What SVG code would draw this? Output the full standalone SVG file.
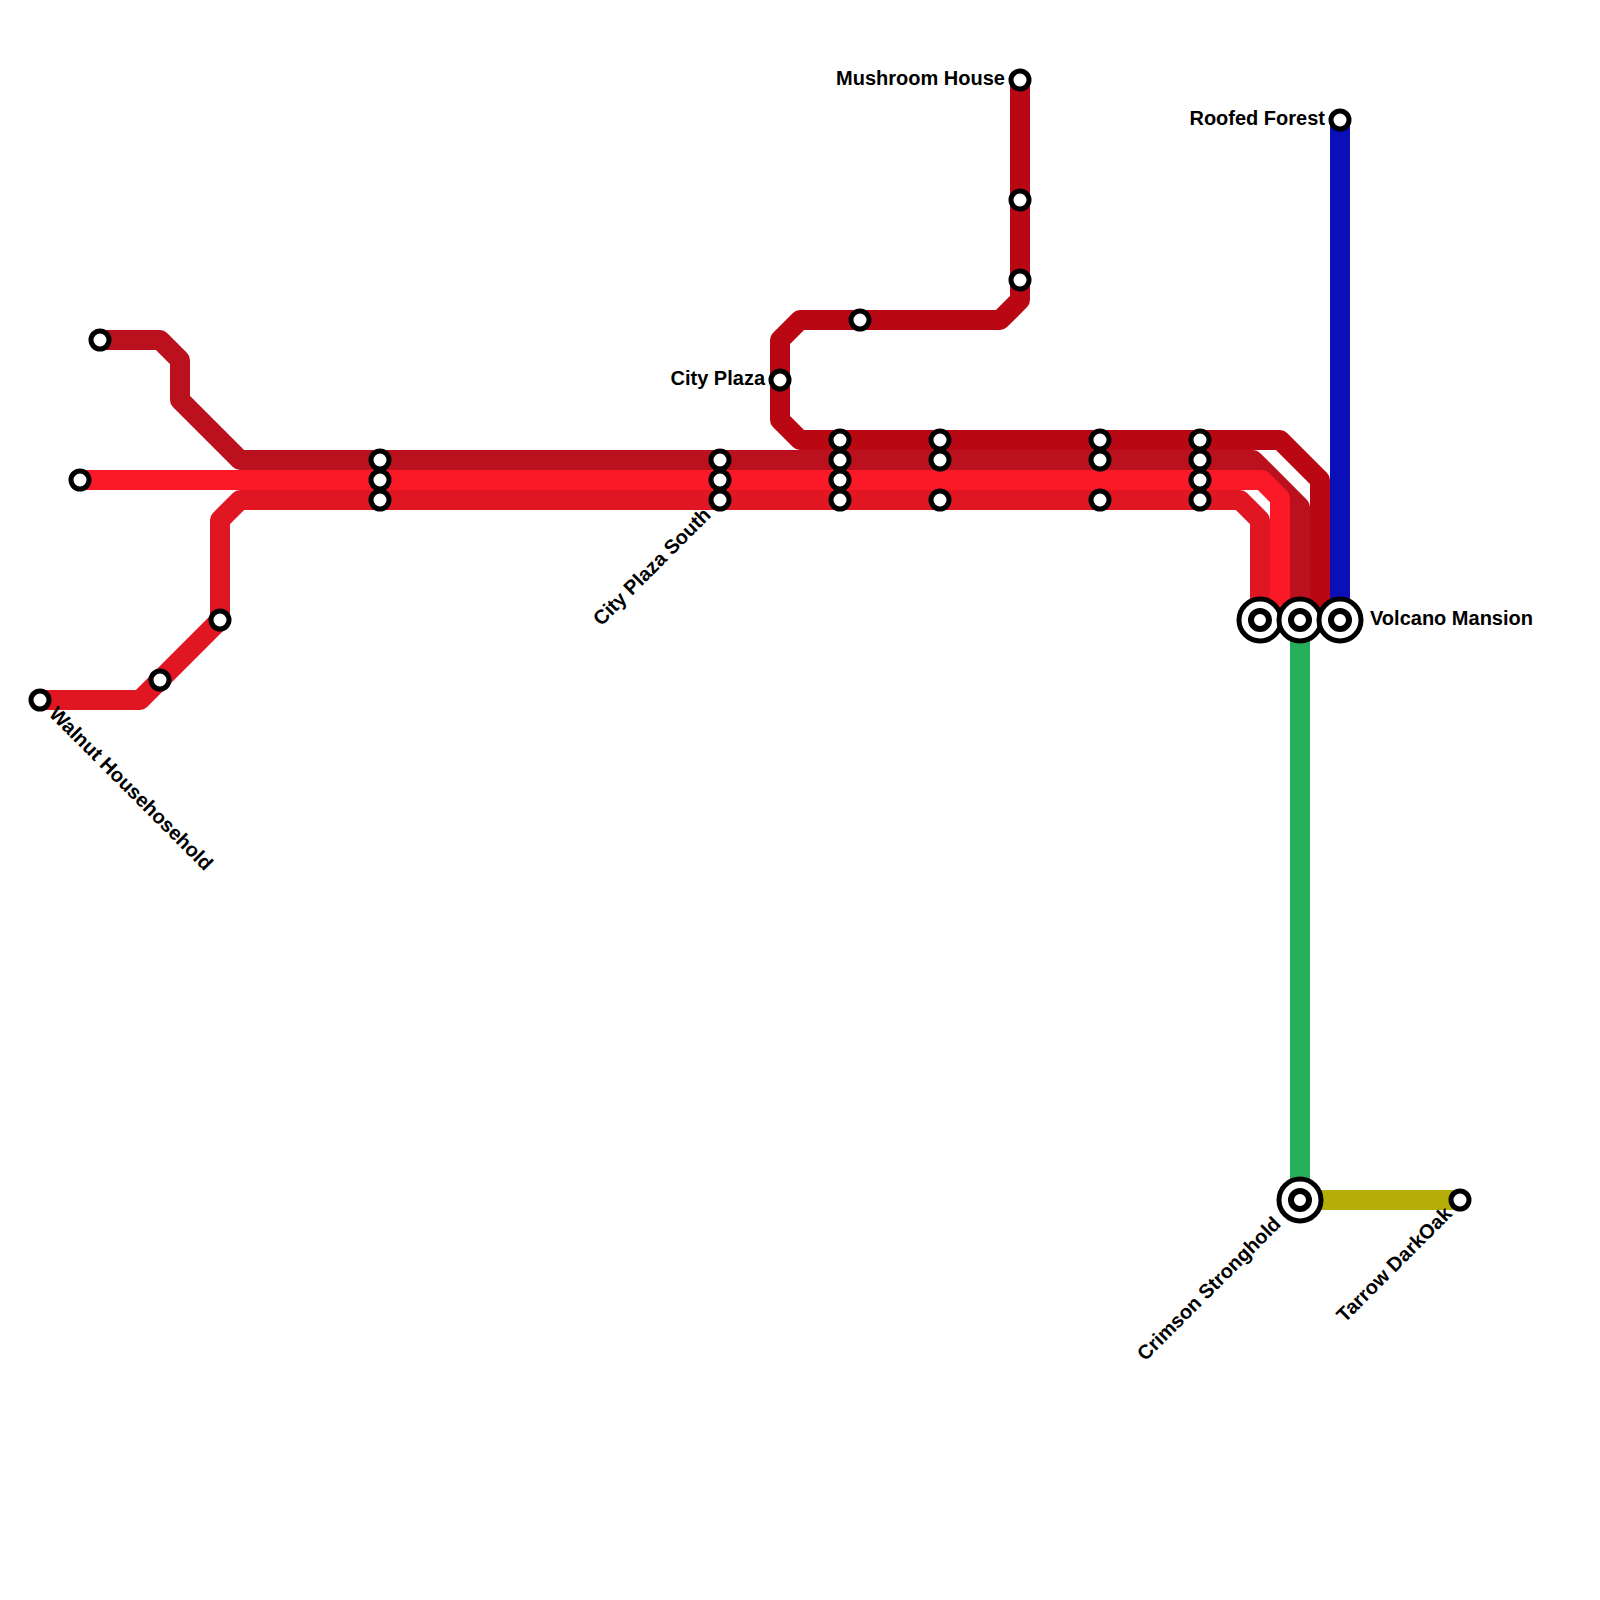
<svg xmlns="http://www.w3.org/2000/svg" width="1600" height="1600" viewBox="0 0 1600 1600">
<style>
.l{fill:none;stroke-width:20;stroke-linejoin:round}
.s{fill:#fff;stroke:#000;stroke-width:5}
.c{fill:#fff;stroke:#000;stroke-width:6}
.o{fill:#fff;stroke:#000;stroke-width:5}
text{font-family:"Liberation Sans",Arial,sans-serif;font-weight:bold;font-size:20px;fill:#000}
.e{text-anchor:end}
</style>
<g id="connectors">
<path class="l" stroke="#27ae5a" d="M1300 620V1200"/>
<path class="l" stroke="#b5ad08" d="M1300 1200H1460"/>
<path class="l" stroke="#0a0fb8" d="M1340 120V620"/>
<path class="l" stroke="#b90813" d="M1020 80V300L1000 320H800L780 340V420L800 440H1280L1320 480V620"/>
<path class="l" stroke="#bb101e" d="M100 340H160L180 360V400L240 460H1253L1300 507V620"/>
<path class="l" stroke="#e01622" d="M40 700H140L220 620V520L240 500H1240L1260 520V620"/>
<path class="l" stroke="#fb1928" d="M80 480H1262L1280 498V620"/>
</g>
<g id="n-walnut"><circle class="s" cx="40" cy="700" r="9"/><text transform="translate(48 715) rotate(45)">Walnut Househosehold</text></g>
<g id="n-s1"><circle class="s" cx="160" cy="680" r="9"/></g>
<g id="n-s2"><circle class="s" cx="220" cy="620" r="9"/></g>
<g id="n-s3"><circle class="s" cx="80" cy="480" r="9"/></g>
<g id="n-s4"><circle class="s" cx="100" cy="340" r="9"/></g>
<g id="n-s5"><circle class="s" cx="380" cy="460" r="9"/><circle class="s" cx="380" cy="480" r="9"/><circle class="s" cx="380" cy="500" r="9"/></g>
<g id="n-cityplazasouth"><circle class="s" cx="720" cy="460" r="9"/><circle class="s" cx="720" cy="480" r="9"/><circle class="s" cx="720" cy="500" r="9"/><text class="e" transform="translate(712 516) rotate(-45)">City Plaza South</text></g>
<g id="n-cityplaza"><circle class="s" cx="780" cy="380" r="9"/><text class="e" x="765" y="385">City Plaza</text></g>
<g id="n-s6"><circle class="s" cx="860" cy="320" r="9"/></g>
<g id="n-s7"><circle class="s" cx="840" cy="440" r="9"/><circle class="s" cx="840" cy="460" r="9"/><circle class="s" cx="840" cy="480" r="9"/><circle class="s" cx="840" cy="500" r="9"/></g>
<g id="n-s8"><circle class="s" cx="940" cy="440" r="9"/><circle class="s" cx="940" cy="460" r="9"/><circle class="s" cx="940" cy="500" r="9"/></g>
<g id="n-s9"><circle class="s" cx="1100" cy="440" r="9"/><circle class="s" cx="1100" cy="460" r="9"/><circle class="s" cx="1100" cy="500" r="9"/></g>
<g id="n-s10"><circle class="s" cx="1200" cy="440" r="9"/><circle class="s" cx="1200" cy="460" r="9"/><circle class="s" cx="1200" cy="480" r="9"/><circle class="s" cx="1200" cy="500" r="9"/></g>
<g id="n-mushroom"><circle class="s" cx="1020" cy="80" r="9"/><text class="e" x="1005" y="85">Mushroom House</text></g>
<g id="n-s11"><circle class="s" cx="1020" cy="200" r="9"/></g>
<g id="n-s12"><circle class="s" cx="1020" cy="280" r="9"/></g>
<g id="n-roofed"><circle class="s" cx="1340" cy="120" r="9"/><text class="e" x="1325" y="125">Roofed Forest</text></g>
<g id="n-i1"><circle class="o" cx="1260" cy="620" r="21"/><circle class="c" cx="1260" cy="620" r="9"/></g>
<g id="n-i2"><circle class="o" cx="1300" cy="620" r="21"/><circle class="c" cx="1300" cy="620" r="9"/></g>
<g id="n-volcano"><circle class="o" cx="1340" cy="620" r="21"/><circle class="c" cx="1340" cy="620" r="9"/><text x="1370" y="625">Volcano Mansion</text></g>
<g id="n-crimson"><circle class="o" cx="1300" cy="1200" r="21"/><circle class="c" cx="1300" cy="1200" r="9"/><text class="e" transform="translate(1282 1225) rotate(-45)">Crimson Stronghold</text></g>
<g id="n-tarrow"><circle class="s" cx="1460" cy="1200" r="9"/><text class="e" transform="translate(1453 1215) rotate(-45)">Tarrow DarkOak</text></g>
</svg>
